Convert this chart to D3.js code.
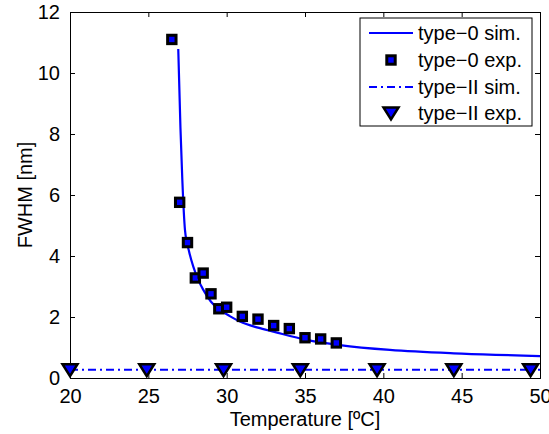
<!DOCTYPE html>
<meta charset="utf-8">
<style>
  body { margin: 0; background: #fff; }
  svg { font-family: 'Liberation Sans', Arial, sans-serif; }
</style>
<script src="https://d3js.org/d3.v7.min.js"></script>
<body>
<svg id="chart" width="549" height="434"></svg>
<script>

// type-0 experiment (squares)
var expT0 = [26.5, 27, 27.5, 28, 28.5, 29, 29.5, 30, 31, 32, 33, 34, 35, 36, 37];
var expW0 = [11.1, 5.76, 4.44, 3.28, 3.44, 2.76, 2.27, 2.32, 2.02, 1.93, 1.72, 1.62, 1.32, 1.28, 1.15];

// type-0 simulation (solid line)
var simT0 = [26.91, 27.05, 27.17, 27.34, 27.6, 27.87, 28.2, 28.51, 29.0, 29.57, 30.2, 30.85, 32.0, 32.98, 35.1, 37.23, 40.42, 45.0, 50.0];
var simW0 = [10.79, 8.2, 6.49, 4.85, 4.15, 3.65, 3.2, 2.89, 2.5, 2.23, 2.03, 1.85, 1.65, 1.52, 1.25, 1.08, 0.92, 0.80, 0.72];

// type-II experiment (triangles) and simulation (dash-dot)
var expT2 = [20, 24.9, 29.8, 34.7, 39.6, 44.5, 49.4];
var expW2 = [0.27, 0.27, 0.27, 0.27, 0.27, 0.27, 0.27];
var simT2 = [20, 50];
var simW2 = [0.27, 0.27];

var xTicks = [20, 25, 30, 35, 40, 45, 50];
var yTicks = [0, 2, 4, 6, 8, 10, 12];

var legendLabels = ["type\u22120 sim.", "type\u22120 exp.", "type\u2212II sim.", "type\u2212II exp."];

var margin = {top: 12, right: 9, bottom: 56, left: 70},
    width = 549 - margin.left - margin.right,
    height = 434 - margin.top - margin.bottom;

var svg = d3.select("#chart")
  .append("g")
  .attr("transform", `translate(${margin.left},${margin.top})`);

var x = d3.scaleLinear().domain([20, 50]).range([0, width]);
var y = d3.scaleLinear().domain([0, 12]).range([height, 0]);

var blue = "#0000ff";
var fontSize = 20;

// clip so markers on the edges are cut like in matlab
svg.append("clipPath").attr("id", "clip")
  .append("rect").attr("width", width).attr("height", height);

// axes (ticks pointing inward, box on all sides)
var tickLen = 5;
svg.append("g")
  .attr("transform", `translate(0,${height})`)
  .call(d3.axisBottom(x).tickValues(xTicks).tickSize(-tickLen).tickPadding(11).tickFormat(d3.format("d")));
svg.append("g")
  .call(d3.axisTop(x).tickValues(xTicks).tickSize(-tickLen).tickFormat(""));
svg.append("g")
  .call(d3.axisLeft(y).tickValues(yTicks).tickSize(-tickLen).tickPadding(10).tickFormat(d3.format("d")));
svg.append("g")
  .attr("transform", `translate(${width},0)`)
  .call(d3.axisRight(y).tickValues(yTicks).tickSize(-tickLen).tickFormat(""));

svg.selectAll(".domain").attr("stroke", "#000");
svg.selectAll(".tick line").attr("stroke", "#000");
svg.selectAll(".tick text")
  .attr("font-size", fontSize)
  .attr("font-family", "'Liberation Sans', Arial, sans-serif")
  .attr("fill", "#000");

// axis labels
svg.append("text")
  .attr("x", width / 2)
  .attr("y", height + 48)
  .attr("text-anchor", "middle")
  .attr("font-size", fontSize)
  .text("Temperature [\u00baC]");

svg.append("text")
  .attr("transform", `translate(-38,${height / 2}) rotate(-90)`)
  .attr("text-anchor", "middle")
  .attr("font-size", fontSize)
  .text("FWHM [nm]");

var plot = svg.append("g").attr("clip-path", "url(#clip)");

var line = d3.line()
  .x(function(d) { return x(d[0]); })
  .y(function(d) { return y(d[1]); });

// type-0 sim
plot.append("path")
  .datum(d3.zip(simT0, simW0))
  .attr("fill", "none")
  .attr("stroke", blue)
  .attr("stroke-width", 2.2)
  .attr("d", line.curve(d3.curveMonotoneX));

// type-II sim
plot.append("path")
  .datum(d3.zip(simT2, simW2))
  .attr("fill", "none")
  .attr("stroke", blue)
  .attr("stroke-width", 2.2)
  .attr("stroke-dasharray", "8,4,2,4")
  .attr("d", line.curve(d3.curveLinear));

// square markers
function square(g, cx, cy) {
  g.append("rect")
    .attr("x", cx - 4.2).attr("y", cy - 4.2)
    .attr("width", 8.4).attr("height", 8.4)
    .attr("fill", blue)
    .attr("stroke", "#000")
    .attr("stroke-width", 3);
}
// down triangle markers
function triangle(g, cx, cy) {
  g.append("path")
    .attr("d", `M${cx - 7.5},${cy - 5.5} L${cx + 7.5},${cy - 5.5} L${cx},${cy + 6.5} Z`)
    .attr("fill", blue)
    .attr("stroke", "#000")
    .attr("stroke-width", 2.5)
    .attr("stroke-linejoin", "miter");
}

expT0.forEach(function(t, i) { square(svg, x(t), y(expW0[i])); });
expT2.forEach(function(t, i) { triangle(svg, x(t), y(expW2[i])); });

// legend
var lg = svg.append("g").attr("transform", `translate(${360 - margin.left},${18 - margin.top})`);
lg.append("rect")
  .attr("width", 172).attr("height", 108)
  .attr("fill", "#fff")
  .attr("stroke", "#000")
  .attr("stroke-width", 1);

var rowY = [15, 42, 69, 95];
lg.append("line").attr("x1", 9).attr("x2", 53).attr("y1", rowY[0]).attr("y2", rowY[0])
  .attr("stroke", blue).attr("stroke-width", 2.2);
square(lg, 31, rowY[1]);
lg.append("line").attr("x1", 9).attr("x2", 53).attr("y1", rowY[2]).attr("y2", rowY[2])
  .attr("stroke", blue).attr("stroke-width", 2.2).attr("stroke-dasharray", "8,4,2,4");
triangle(lg, 31, rowY[3]);

lg.selectAll("text.leg")
  .data(legendLabels)
  .enter()
  .append("text")
    .attr("class", "leg")
    .attr("x", 58)
    .attr("y", function(d, i) { return rowY[i] + 7; })
    .attr("font-size", fontSize)
    .text(function(d) { return d; });

</script>
</body>
